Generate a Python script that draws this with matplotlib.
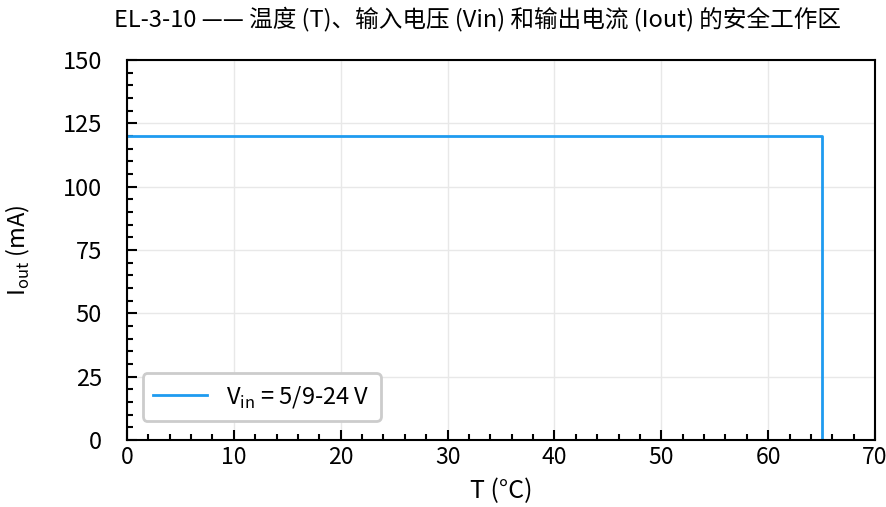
import matplotlib
matplotlib.use("Agg")
import matplotlib.pyplot as plt
from matplotlib.ticker import MultipleLocator

plt.rcParams['font.family'] = ['Noto Sans CJK SC', 'DejaVu Sans']
plt.rcParams['mathtext.fontset'] = 'custom'
plt.rcParams['mathtext.rm'] = 'Noto Sans CJK SC'

# DATA
temp = [0, 65, 65]
iout = [120, 120, 0]
legend_label = r'V$_{\mathrm{in}}$ = 5/9-24 V'
title = 'EL-3-10 —— 温度 (T)、输入电压 (Vin) 和输出电流 (Iout) 的安全工作区'

fig = plt.figure(figsize=(8.87, 5.07), dpi=100)
ax = fig.add_axes([127/887, 1 - 440/507, 748/887, 380/507])

ax.plot(temp, iout, color='#1E9BF0', lw=2, label=legend_label)

ax.set_xlim(0, 70)
ax.set_ylim(0, 150)
ax.xaxis.set_major_locator(MultipleLocator(10))
ax.xaxis.set_minor_locator(MultipleLocator(2))
ax.yaxis.set_major_locator(MultipleLocator(25))
ax.yaxis.set_minor_locator(MultipleLocator(5))
ax.tick_params(which='both', direction='in', labelsize=17, width=1.5)
ax.tick_params(axis='x', labelsize=16.5)
ax.tick_params(which='major', length=7)
ax.tick_params(axis='x', which='major', pad=4)
ax.tick_params(axis='y', which='major', pad=18)
ax.tick_params(which='minor', length=4)
for lbl in ax.get_yticklabels():
    lbl.set_verticalalignment('center_baseline')
for s in ax.spines.values():
    s.set_linewidth(1.5)
ax.grid(True, which='major', color='#e8e8e8', lw=1)

ax.set_xlabel('T (°C)', fontsize=18, labelpad=7)
ax.set_ylabel(r'I$_{\mathrm{out}}$ (mA)', fontsize=17, labelpad=22)
ax.set_title(title, fontsize=17, pad=24, x=0.468)

leg = ax.legend(loc='lower left', fontsize=17, fancybox=True, framealpha=1,
                edgecolor='#cccccc', handlelength=2.3, borderpad=0.45,
                bbox_to_anchor=(0.005, 0.02))
leg.get_frame().set_linewidth(2)

fig.savefig('out.png', dpi=100)
